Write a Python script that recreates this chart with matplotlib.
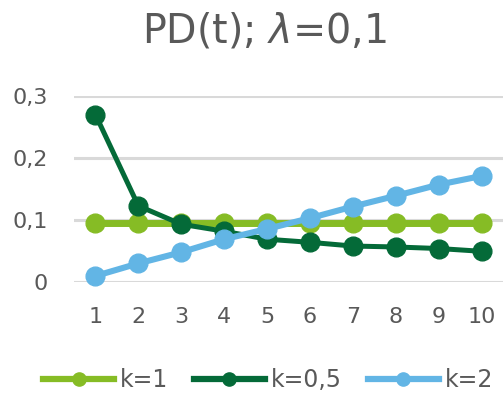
import matplotlib
matplotlib.use("Agg")
import matplotlib.pyplot as plt

t = [1, 2, 3, 4, 5, 6, 7, 8, 9, 10]
k1 = [0.0958] * 10
k05 = [0.270, 0.1228, 0.0932, 0.0819, 0.069, 0.064, 0.058, 0.0565, 0.054, 0.0495]
k2 = [0.0097, 0.030, 0.048, 0.069, 0.0856, 0.103, 0.1217, 0.139, 0.157, 0.171]
labels = ["k=1", "k=0,5", "k=2"]
yticks = [0, 0.1, 0.2, 0.3]
ytick_labels = ["0", "0,1", "0,2", "0,3"]
title = r"PD(t); $\lambda$=0,1"

c1, c05, c2 = "#86BC25", "#046A38", "#62B5E5"
txt = "#595959"

fig = plt.figure(figsize=(5.03, 3.94), dpi=100)
ax = fig.add_axes([74/503, 1 - 282/394, 1 - 74/503, (282 - 96)/394])

ax.plot(t, k1, color=c1, lw=5, marker="o", ms=13.5, label=labels[0], zorder=3, clip_on=False)
ax.plot(t, k05, color=c05, lw=3.6, marker="o", ms=13.5, label=labels[1], zorder=4, clip_on=False)
ax.plot(t, k2, color=c2, lw=4.4, marker="o", ms=13.5, label=labels[2], zorder=5, clip_on=False)

ax.set_xlim(0.5, 10.5)
ax.set_ylim(0, 0.3)
ax.set_xticks(t)
ax.set_xticklabels([str(v) for v in t])
ax.set_yticks(yticks)
ax.set_yticklabels(ytick_labels)
ax.tick_params(length=0, labelsize=16, colors=txt)
ax.tick_params(axis="x", pad=18)
ax.tick_params(axis="y", pad=19)
for s in ax.spines.values():
    s.set_visible(False)
ax.yaxis.grid(True, color="#d9d9d9", lw=2.2, zorder=0)
ax.set_axisbelow(True)

fig.text(264/503, 1 - 43/394, title, ha="center", va="baseline", fontsize=28.5, color=txt)

leg = fig.legend(loc="center", bbox_to_anchor=(268/503, 1 - 380/394), ncol=3,
                 frameon=False, fontsize=17, handlelength=3.0, handletextpad=0.25,
                 columnspacing=1.1, labelcolor=txt, borderpad=0, borderaxespad=0)
for ln in leg.get_lines():
    ln.set_markersize(9.5)
    ln.set_linewidth(4.5)

fig.savefig("out.png", dpi=100)
